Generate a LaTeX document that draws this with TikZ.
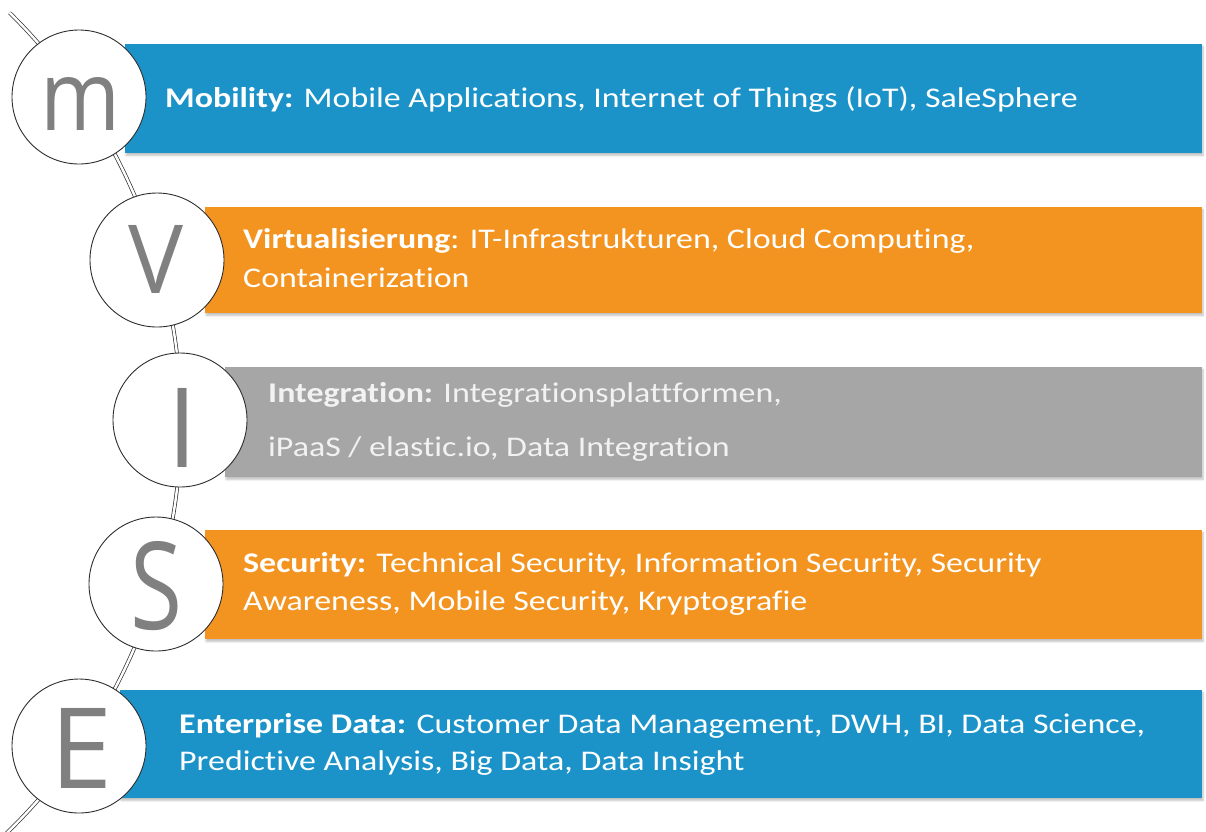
\documentclass[tikz,border=0pt]{standalone}
\usepackage{fontspec}
\setmainfont{Carlito}[FakeStretch=1.19, Ligatures=NoCommon]
\newfontfamily\initfont{Open Sans}
\usetikzlibrary{shadows.blur}
\definecolor{barblue}{RGB}{27,147,201}
\definecolor{barorange}{RGB}{243,148,32}
\definecolor{bargray}{RGB}{166,166,166}
\definecolor{initgray}{RGB}{128,128,128}
\definecolor{ringline}{RGB}{45,45,45}
\definecolor{paletext}{RGB}{242,242,242}

\begin{document}
\begin{tikzpicture}[x=1pt,y=-1pt,
  bar/.style={blur shadow={shadow xshift=1pt, shadow yshift=-2.5pt, shadow blur steps=6, shadow opacity=25}},
  ring/.style={circle, draw=ringline, line width=0.9pt, fill=white, minimum size=134pt, inner sep=0pt},
  initial/.style={inner sep=0pt, text=initgray, font=\initfont},
  label/.style={anchor=base west, inner sep=0pt, text=white, font=\fontsize{28.5}{34}\selectfont},
  spine/.style={draw=ringline, line width=0.7pt, double=white, double distance=2.4pt}
]
\useasboundingbox (0,0) rectangle (1206,831);

% the curved spine that strings the five rings together
\begin{scope}
  \clip (0,0) rectangle (1206,831);
  \coordinate (spinetop) at (9.6,12.8);
  \draw[spine] (spinetop) arc[start angle=-45.5, end angle=47, radius=573];
\end{scope}

% coloured bars
\path[bar, fill=barblue]   (125,44)  rectangle (1202,153);
\path[bar, fill=barorange] (205,207) rectangle (1202,313);
\path[bar, fill=bargray]   (225,367) rectangle (1202,477);
\path[bar, fill=barorange] (205,530) rectangle (1202,639);
\path[bar, fill=barblue]   (120,690) rectangle (1202,798);

% rings
\node[ring] (cm) at (79,97)  {};
\node[ring] (cv) at (157,260) {};
\node[ring] (ci) at (180,420) {};
\node[ring] (cs) at (156,584) {};
\node[ring] (ce) at (79,746)  {};

% initials
\node[initial] (lm) at (81,103.5)  {\resizebox{80pt}{53pt}{m}};
\node[initial] (lv) at (156.5,259) {\resizebox{55pt}{68pt}{V}};
\node[initial] (li) at (182.5,427.5) {\resizebox{30pt}{79pt}{I}};
\node[initial] (ls) at (156.5,586) {\resizebox{52pt}{88pt}{S}};
\node[initial] (le) at (82,748)    {\resizebox{62pt}{80pt}{E}};

% bar texts
\node[label] (t1) at (165,107) {\textbf{Mobility:} Mobile Applications, Internet of Things (IoT), SaleSphere};
\node[label] (t2a) at (243,248) {\textbf{Virtualisierung}: IT-Infrastrukturen, Cloud Computing,};
\node[label] (t2b) at (243,287) {Containerization};
\node[label, text=paletext] (t3a) at (268,402) {\textbf{Integration:} Integrationsplattformen,};
\node[label, text=paletext] (t3b) at (268,456) {iPaaS / elastic.io, Data Integration};
\node[label] (t4a) at (243,572) {\textbf{Security:} Technical Security, Information Security, Security};
\node[label] (t4b) at (243,610) {Awareness, Mobile Security, Kryptografie};
\node[label] (t5a) at (179,733) {\textbf{Enterprise Data:} Customer Data Management, DWH, BI, Data Science,};
\node[label] (t5b) at (179,770) {Predictive Analysis, Big Data, Data Insight};
\end{tikzpicture}
\end{document}
